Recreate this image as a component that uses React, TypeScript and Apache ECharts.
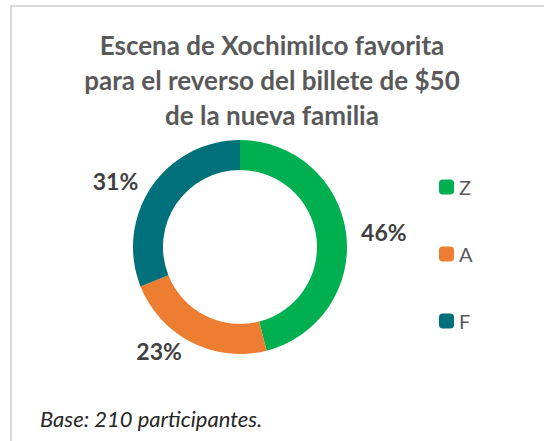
import React, { useEffect, useRef } from "react";
import * as echarts from "echarts";

const titleLines = [
  "Escena de Xochimilco favorita",
  "para el reverso del billete de $50",
  "de la nueva familia",
];
const categories = ["Z", "A", "F"];
const values = [46, 23, 31];
const colors = ["#00B050", "#ED7D31", "#00717A"];
const footnote = "Base: 210 participantes.";

export default function App() {
  const ref = useRef<HTMLDivElement>(null);
  useEffect(() => {
    if (!ref.current) return;
    const chart = echarts.init(ref.current, null, { renderer: "svg" });
    chart.setOption({
      animation: false,
      backgroundColor: "#ffffff",
      title: {
        text: titleLines.join("\n"),
        left: "center",
        top: 27,
        padding: 0,
        textStyle: {
          fontFamily: "Lato",
          fontWeight: "bold",
          fontSize: 26,
          lineHeight: 35,
          color: "#595959",
        },
      },
      legend: {
        orient: "vertical",
        left: 434,
        top: 172,
        itemWidth: 15,
        itemHeight: 15,
        itemGap: 47,
        icon: "roundRect",
        data: categories,
        textStyle: { fontFamily: "Lato", fontSize: 20, color: "#595959", padding: [0, 0, 0, 0] },
      },
      graphic: [
        {
          type: "rect",
          shape: { x: 11, y: 6, width: 600, height: 500 },
          style: { fill: "none", stroke: "#D9D9D9", lineWidth: 2 },
          silent: true,
          z: -1,
        },
        {
          type: "text",
          left: 40,
          top: 407,
          style: {
            text: footnote,
            fontFamily: "Lato",
            fontStyle: "italic",
            fontSize: 22,
            fill: "#262626",
          },
        },
      ],
      series: [
        {
          type: "pie",
          center: [240, 247],
          radius: [77, 107],
          startAngle: 90,
          clockwise: true,
          data: categories.map((c, i) => ({
            name: c,
            value: values[i],
            itemStyle: { color: colors[i] },
          })),
          label: {
            show: true,
            position: "outside",
            formatter: "{c}%",
            fontFamily: "Lato",
            fontWeight: "bold",
            fontSize: 23,
            color: "#404040",
          },
          labelLine: { show: false, length: 10, length2: 0 },
        },
      ],
    });
    return () => chart.dispose();
  }, []);
  return (
    <div
      ref={ref}
      style={{ position: "fixed", left: 0, top: 0, width: 544, height: 441 }}
    />
  );
}
